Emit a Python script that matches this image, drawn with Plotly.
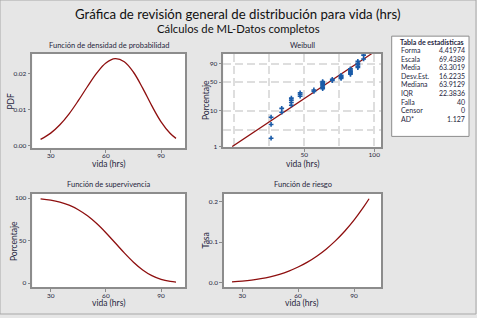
import math
import plotly.graph_objects as go

# ---------------- data ----------------
vida_hrs = [24.5, 30, 35, 40, 45, 50, 55, 60, 65, 70, 75, 80, 85, 90, 95, 98.1]
pdf_vals = [0.00179, 0.00352, 0.00582, 0.00884, 0.01247, 0.01638, 0.02007, 0.02286,
            0.02406, 0.02321, 0.02031, 0.01593, 0.01103, 0.00664, 0.00342, 0.00208]
surv_pct = [99.0, 97.58, 95.28, 91.64, 86.33, 79.12, 69.99, 59.20,
            47.39, 35.48, 24.52, 15.42, 8.68, 4.30, 1.84, 1.00]
hazard_vals = [0.00181, 0.00361, 0.00611, 0.00965, 0.01444, 0.02070, 0.02868, 0.03862,
               0.05078, 0.06543, 0.08283, 0.10330, 0.12708, 0.15452, 0.18593, 0.2075]

# Weibull probability plot: sorted failure times and their plotting percentiles
fail_times = [36, 36, 36, 40, 40, 44, 44, 44, 44, 48, 48, 48, 55, 55,
              60, 60, 60, 60, 60, 60, 60, 66, 66, 72, 72, 72, 72,
              79, 79, 79, 79, 79, 79, 85, 85, 85, 85, 85, 90, 90]
fail_pct = [1.73, 4.21, 6.68, 9.16, 11.63, 14.11, 16.58, 19.06, 21.53, 24.01,
            26.49, 28.96, 31.44, 33.91, 36.39, 38.86, 41.34, 43.81, 46.29, 48.76,
            51.24, 53.71, 56.19, 58.66, 61.14, 63.61, 66.09, 68.56, 71.04, 73.51,
            75.99, 78.47, 80.94, 83.42, 85.89, 88.37, 90.84, 93.32, 95.79, 98.27]
fit_x = [24.5, 98.1]
fit_pct = [1.0, 99.0]

weib_pct_ticks = [1, 10, 50, 90]
weib_pct_minor = [3]
weib_x_ticks = [50, 100]
weib_x_minor = [25, 35.4, 70.7]

stat_labels = ["Forma", "Escala", "Media", "Desv.Est.", "Mediana", "IQR", "Falla", "Censor", "AD*"]
stat_values = ["4.41974", "69.4389", "63.3019", "16.2235", "63.9129", "22.3836", "40", "0", "1.127"]

# ---------------- helpers ----------------
W, H = 477, 318
FONT = "Lato"
TXT = "#262640"
LINE_RED = "#8E0F0F"
PT_BLUE = "#1A5BA8"
FRAME = "#8C8C8C"
GRID = "#DEDEDE"


def wscale(p):
    """Weibull probability-paper scale for a percentage."""
    return math.log(-math.log(1 - p / 100.0))


def px(x):
    return x / W


def py(y):
    return 1 - y / H


fig = go.Figure()

line_style = dict(color=LINE_RED, width=1.3, shape="spline")
fig.add_trace(go.Scatter(x=vida_hrs, y=pdf_vals, mode="lines", line=line_style, xaxis="x", yaxis="y"))
fig.add_trace(go.Scatter(x=fit_x, y=[wscale(p) for p in fit_pct], mode="lines",
                         line=dict(color=LINE_RED, width=1.2), xaxis="x2", yaxis="y2"))
fig.add_trace(go.Scatter(x=fail_times, y=[wscale(p) for p in fail_pct], mode="markers",
                         marker=dict(symbol="cross", size=4, color=PT_BLUE, line=dict(width=0)),
                         xaxis="x2", yaxis="y2"))
fig.add_trace(go.Scatter(x=vida_hrs, y=surv_pct, mode="lines", line=line_style, xaxis="x3", yaxis="y3"))
fig.add_trace(go.Scatter(x=vida_hrs, y=hazard_vals, mode="lines", line=line_style, xaxis="x4", yaxis="y4"))

ax_common = dict(showline=True, mirror=True, linecolor=FRAME, linewidth=1.5, ticks="outside",
                 ticklen=3, tickcolor=FRAME, tickwidth=1, zeroline=False, showgrid=False,
                 tickfont=dict(family=FONT, size=6.5, color=TXT), fixedrange=True)
x_common = dict(ax_common, ticklabelstandoff=-2)
grid_style = dict(showgrid=True, gridcolor=GRID, gridwidth=1.5, griddash="8px,4px")

fig.update_layout(
    width=W, height=H, margin=dict(l=0, r=0, t=0, b=0),
    paper_bgcolor="#E6E6E6", plot_bgcolor="white", showlegend=False,
    font=dict(family=FONT, color=TXT),
    xaxis=dict(x_common, domain=[px(32.3), px(185)], range=[20, 103], tickvals=[30, 60, 90], anchor="y"),
    yaxis=dict(ax_common, domain=[py(149.3), py(54.3)], range=[-0.00055, 0.0254],
               tickvals=[0, 0.01, 0.02], tickformat=".2f", anchor="x"),
    xaxis2=dict(x_common, type="log", domain=[px(223.3), px(381)],
                range=[math.log10(22.43), math.log10(106.9)], tickvals=weib_x_ticks,
                minor=dict(tickvals=weib_x_minor, ticks="", **grid_style),
                anchor="y2", **grid_style),
    yaxis2=dict(ax_common, domain=[py(148.3), py(54.3)], range=[-4.62, 1.49],
                tickvals=[wscale(p) for p in weib_pct_ticks], ticktext=[str(p) for p in weib_pct_ticks],
                minor=dict(tickvals=[wscale(p) for p in weib_pct_minor], ticks="", **grid_style),
                anchor="x2", **grid_style),
    xaxis3=dict(x_common, domain=[px(32.3), px(185)], range=[20, 103], tickvals=[30, 60, 90], anchor="y3"),
    yaxis3=dict(ax_common, domain=[py(290), py(195.7)], range=[-5, 105], tickvals=[0, 50, 100], anchor="x3"),
    xaxis4=dict(x_common, domain=[px(224), px(381)], range=[20.2, 104.5], tickvals=[30, 60, 90], anchor="y4"),
    yaxis4=dict(ax_common, domain=[py(290), py(195.7)], range=[-0.0115, 0.2196],
                tickvals=[0, 0.1, 0.2], tickformat=".1f", anchor="x4"),
)


def note(text, x, y, size, color=TXT, angle=0, xanchor="center", bold=False):
    fig.add_annotation(text=("<b>%s</b>" % text) if bold else text, x=px(x), y=py(y),
                       xref="paper", yref="paper", showarrow=False, xanchor=xanchor,
                       yanchor="middle", textangle=angle,
                       font=dict(family=FONT, size=size, color=color))


note("Gráfica de revisión general de distribución para vida (hrs)", 238, 14, 13.2, color="#111111")
note("Cálculos de ML-Datos completos", 238, 28.5, 11.3, color="#111111")

note("Función de densidad de probabilidad", 108.6, 45.7, 7.5)
note("Weibull", 302, 45.7, 7.5)
note("Función de supervivencia", 108.6, 186.7, 7.5)
note("Función de riesgo", 302.5, 186.7, 7.5)

for xc, yc in [(108.6, 165.5), (302, 165.5), (108.6, 305.5), (301, 305.5)]:
    note("vida (hrs)", xc, yc, 8.5)
note("PDF", 10.7, 101.8, 8.5, angle=-90)
note("Porcentaje", 206.7, 101.3, 8.5, angle=-90)
note("Porcentaje", 13.3, 243, 8.5, angle=-90)
note("Tasa", 205.7, 243, 8.5, angle=-90)

# statistics table
fig.add_shape(type="rect", xref="paper", yref="paper", x0=px(391.7), x1=px(469), y0=py(137.7), y1=py(36.5),
              fillcolor="white", line=dict(color=FRAME, width=1), layer="below")
note("Tabla de estadísticas", 431.5, 42.5, 7, bold=True)
row_y = 50.7
for lab, val in zip(stat_labels, stat_values):
    note(lab, 399, row_y, 7, xanchor="left")
    note(val, 466.7, row_y, 7, xanchor="right")
    row_y += 8.63

# outer frame
fig.add_shape(type="rect", xref="paper", yref="paper", x0=0, x1=px(476), y0=py(317), y1=1,
              line=dict(color="#A8A8A8", width=1), fillcolor="rgba(0,0,0,0)")

fig.write_html("out.html", config={"displayModeBar": False},
               post_script="document.body.style.margin='0';")
